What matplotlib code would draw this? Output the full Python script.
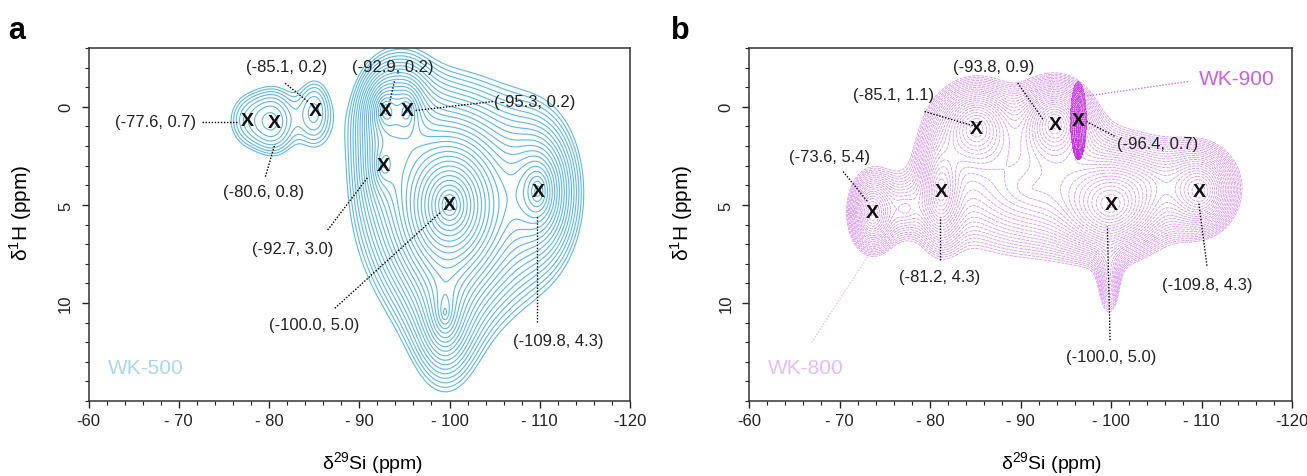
import numpy as np
import matplotlib.pyplot as plt
from matplotlib.ticker import MultipleLocator

plt.rcParams['font.family'] = ['Liberation Sans', 'DejaVu Sans']
plt.rcParams['mathtext.fontset'] = 'custom'
plt.rcParams['mathtext.rm'] = 'Liberation Sans'

# ---------------- WK-500 (panel a) ----------------
# labelled cross peaks: delta 29Si, delta 1H
a_si = [-77.6, -80.6, -85.1, -92.9, -95.3, -92.7, -100.0, -109.8]
a_h = [0.7, 0.8, 0.2, 0.2, 0.2, 3.0, 5.0, 4.3]
a_amp = [0.042, 0.042, 0.045, 0.25, 0.2, 0.14, 1.0, 0.3]
a_wsi = [2.0, 1.5, 1.3, 1.5, 1.3, 1.3, 3.1, 2.1]
a_wh = [1.2, 1.2, 1.3, 1.15, 1.15, 1.2, 2.0, 1.8]
a_shape = [2, 2, 2, 1, 1, 1, 1, 1]     # 2 = gaussian, 1 = exponential
# unlabelled parts: island base and tail of the big envelope
a_sh_si = [-81.5, -99.5]
a_sh_h = [0.6, 10.5]
a_sh_amp = [0.028, 0.22]
a_sh_wsi = [3.3, 1.8]
a_sh_wh = [1.6, 1.9]
a_sh_shape = [2, 1]

# ---------------- WK-800 / WK-900 (panel b) ----------------
b_si = [-73.6, -81.2, -85.1, -93.8, -100.0, -109.8]
b_h = [5.4, 4.3, 1.1, 0.9, 5.0, 4.3]
b_amp = [0.3, 0.3, 0.4, 0.5, 0.55, 0.35]
b_wsi = [1.4, 1.3, 2.3, 2.0, 2.8, 2.0]
b_wh = [1.1, 1.5, 1.2, 1.1, 1.2, 1.1]
b_shape = [1.5] * 6
b_sh_si = [-91.0, -99.8, -104.0, -77.3]
b_sh_h = [4.2, 8.8, 3.8, 5.2]
b_sh_amp = [0.22, 0.12, 0.12, 0.1]
b_sh_wsi = [6.5, 0.8, 5.0, 1.5]
b_sh_wh = [2.0, 1.3, 1.3, 0.9]
b_sh_shape = [1.5] * 4

c_si = [-96.4]          # WK-900 peak
c_h = [0.7]
c_amp = [1.0]
c_wsi = [0.4]
c_wh = [0.92]
c_shape = [2]

# label placement: (text x, text y, leader x0, y0, x1, y1)
a_lab = [(-67.4, 0.75, -72.6, 0.75, -76.5, 0.75),
         (-79.4, 4.3, -79.6, 3.56, -80.65, 1.9),
         (-81.9, -2.06, -81.8, -1.2, -84.3, -0.27),
         (-93.7, -2.06, -93.9, -1.3, -93.4, -0.3),
         (-109.4, -0.27, -104.8, -0.27, -96.2, 0.19),
         (-82.6, 7.2, -86.5, 6.28, -91.0, 3.56),
         (-85.0, 11.1, -87.3, 10.27, -99.1, 5.34),
         (-112.0, 11.9, -109.7, 10.95, -109.7, 5.5)]
b_lab = [(-68.95, 2.53, -70.4, 3.3, -73.1, 4.83),
         (-81.1, 8.66, -81.1, 7.8, -81.1, 5.6),
         (-76.0, -0.61, -79.4, 0.24, -85.0, 1.0),
         (-87.0, -2.06, -89.7, -1.22, -92.5, 0.66),
         (-100.0, 12.74, -99.9, 11.9, -99.6, 6.1),
         (-110.6, 9.08, -110.6, 8.1, -109.7, 4.9)]
c_lab = [(-105.2, 1.85, -100.4, 1.5, -97.3, 0.75)]

si_grid = np.linspace(-60, -120, 481)
h_grid = np.linspace(-3, 15, 361)
SI, H = np.meshgrid(si_grid, h_grid)


def spectrum(si, h, amp, wsi, wh, shape):
    z = np.zeros_like(SI)
    for x0, y0, a, sx, sy, p in zip(si, h, amp, wsi, wh, shape):
        r = np.sqrt(((SI - x0) / sx) ** 2 + ((H - y0) / sy) ** 2)
        z += a * np.exp(-r ** p / p)
    return z


def frame(ax, xlab_x):
    ax.set_xlim(-60, -120)
    ax.set_ylim(15, -3)
    ax.xaxis.set_minor_locator(MultipleLocator(2))
    ax.yaxis.set_minor_locator(MultipleLocator(1))
    ax.set_xticks(np.arange(-60, -121, -10))
    ax.set_xticklabels(['-60', '- 70', '- 80', '- 90', '- 100', '- 110', '-120'])
    ax.set_yticks([0, 5, 10])
    ax.set_yticklabels(['0', '5', '10'], rotation=90, va='center')
    ax.tick_params(which='major', direction='out', length=5, width=1, labelsize=12,
                   colors='#222222')
    ax.tick_params(which='minor', direction='out', length=3, width=0.8, colors='#222222')
    ax.tick_params(axis='y', pad=6)
    for s in ax.spines.values():
        s.set_color('#333333')
        s.set_linewidth(1.1)
    ax.set_xlabel('δ$^{29}$Si (ppm)', fontsize=14)
    ax.set_ylabel('δ$^{1}$H (ppm)', fontsize=15)
    ax.xaxis.set_label_coords(xlab_x, -0.138)
    ax.yaxis.set_label_coords(-0.1, 0.535)


def annotate(ax, si, h, lab):
    for x0, y0, (tx, ty, lx0, ly0, lx1, ly1) in zip(si, h, lab):
        ax.plot([lx0, lx1], [ly0, ly1], ls=(0, (1, 1.2)), color='black', lw=1.0)
        ax.text(tx, ty, f'({x0:.1f}, {y0:.1f})', fontsize=12, color='#222222',
                ha='center', va='center')
        ax.text(x0, y0, 'X', fontsize=14, fontweight='bold', color='#111111',
                ha='center', va='center')


fig = plt.figure(figsize=(13.07, 4.77), dpi=100)
ax_a = fig.add_axes([88.5 / 1307, 1 - 402 / 477, 541.5 / 1307, 353 / 477])
ax_b = fig.add_axes([749 / 1307, 1 - 402 / 477, 543 / 1307, 353 / 477])

# panel a
za = spectrum(a_si + a_sh_si, a_h + a_sh_h, a_amp + a_sh_amp,
              a_wsi + a_sh_wsi, a_wh + a_sh_wh, a_shape + a_sh_shape)
lev_a = 0.035 * 1.127 ** np.arange(40)
ax_a.contour(SI, H, za, levels=lev_a[lev_a < za.max()], colors='#5fb8e6',
             linewidths=0.8)
annotate(ax_a, a_si, a_h, a_lab)
ax_a.text(-66.4, 13.3, 'WK-500', fontsize=15, color='#a9d6f0', ha='center', va='center')
frame(ax_a, 0.525)

# panel b
zb = spectrum(b_si + b_sh_si, b_h + b_sh_h, b_amp + b_sh_amp,
              b_wsi + b_sh_wsi, b_wh + b_sh_wh, b_shape + b_sh_shape)
lev_b = 0.05 * 1.1 ** np.arange(50)
ax_b.contour(SI, H, zb, levels=lev_b[lev_b < zb.max()], colors='#da98ee',
             linewidths=0.6, linestyles=[(0, (4, 1.2))])
zc = spectrum(c_si, c_h, c_amp, c_wsi, c_wh, c_shape)
ax_b.contourf(SI, H, zc, levels=[0.1, 1.1], colors='#c832e0')
ax_b.contour(SI, H, zc, levels=[0.3, 0.6], colors='white', linewidths=0.6,
             linestyles=[(0, (1, 1.5))])
annotate(ax_b, b_si, b_h, b_lab)
annotate(ax_b, c_si, c_h, c_lab)
ax_b.plot([-108.5, -97.0], [-1.29, -0.53], ls=(0, (1, 1.2)), color='#d070e0', lw=1.0)
ax_b.text(-113.9, -1.46, 'WK-900', fontsize=15, color='#cf5fe0', ha='center', va='center')
ax_b.plot([-74.0, -66.8], [7.0, 12.1], ls=(0, (1, 1.2)), color='#e6c4f2', lw=1.0)
ax_b.text(-66.3, 13.3, 'WK-800', fontsize=15, color='#e4bdf3', ha='center', va='center')
frame(ax_b, 0.558)

fig.text(17 / 1307, 1 - 31 / 477, 'a', fontsize=22, fontweight='bold', ha='center', va='center')
fig.text(680 / 1307, 1 - 31 / 477, 'b', fontsize=22, fontweight='bold', ha='center', va='center')

fig.savefig('out.png', dpi=100)
